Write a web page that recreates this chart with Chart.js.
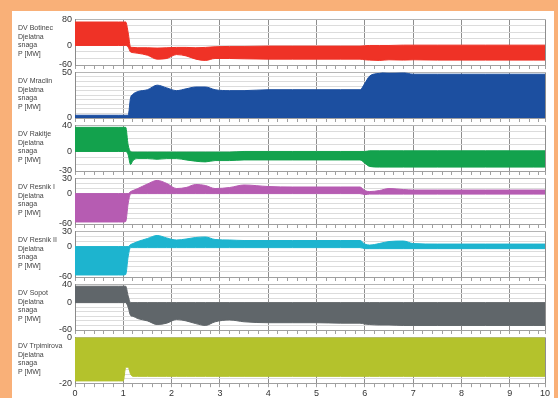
<!DOCTYPE html>
<html>
<head>
<meta charset="utf-8">
<script src="https://cdn.jsdelivr.net/npm/chart.js@4"></script>
<style>
html, body { margin: 0; padding: 0; width: 558px; height: 398px; overflow: hidden; background: #F9B078; font-family: "Liberation Sans", Arial, sans-serif; }
#card { position: absolute; left: 12px; top: 11px; width: 542px; height: 387px; background: #fff; }
.panel { position: absolute; left: 0; }
.lbl { position: absolute; left: 18px; font-size: 7px; line-height: 8.5px; color: #444; white-space: nowrap; }
</style>
</head>
<body>
<div id="card"></div>
<div id="wrap"></div>
<script>
// time axis [s]
const time = [0, 0.9, 1.0, 1.05, 1.1, 1.15, 1.2, 1.3, 1.5, 1.7, 1.9, 2.1, 2.3, 2.5, 2.7, 2.9, 3.2, 3.5, 4.0, 4.5, 5.0, 5.5, 5.9, 6.0, 6.1, 6.3, 6.5, 6.8, 7.0, 7.5, 8.0, 8.5, 9.0, 9.5, 9.73];
const xTickLabels = ['0', '1', '2', '3', '4', '5', '6', '7', '8', '9', '10'];

// envelope of the active power oscillation, P [MW]
const botinecUpper = [72, 72, 72, 72, 40, -5, -6, -7, -7, -8, -7, -6, -6, -7, -6, -4, -3, -3, -2, -2, -2, -2, -2, -1, 0, 0, 0, 1, 1, 1, 1, 1, 1, 1, 1];
const botinecLower = [0, 0, 0, 0, -5, -20, -22, -24, -30, -42, -40, -28, -32, -42, -46, -40, -40, -41, -42, -42, -42, -42, -42, -44, -45, -46, -44, -45, -44, -45, -45, -45, -45, -45, -45];

const mraclinUpper = [3, 3, 3, 3, 3, 22, 26, 29, 31, 36, 33, 30, 32, 34, 34, 31, 30, 30, 31, 31, 31, 31, 31, 38, 46, 49, 51, 50, 48, 48, 48, 48, 48, 48, 48];
const mraclinLower = [0, 0, 0, 0, 0, 0, 0, 0, 0, 0, 0, 0, 0, 0, 0, 0, 0, 0, 0, 0, 0, 0, 0, 0, 0, 0, 0, 0, 0, 0, 0, 0, 0, 0, 0];

const rakitjeUpper = [37, 37, 37, 37, 10, 0, -1, -1, -1, -1, -1, -1, -1, -1, -1, -1, -1, 0, 0, 0, 0, 0, 0, 0, 1, 1, 1, 1, 1, 1, 1, 1, 1, 1, 1];
const rakitjeLower = [0, 0, 0, 0, -5, -20, -14, -11, -11, -12, -11, -11, -13, -15, -16, -14, -14, -13, -13, -13, -13, -13, -13, -18, -23, -24, -24, -24, -24, -24, -24, -24, -24, -24, -24];

const resnik1Upper = [0, 0, 0, 0, 0, 4, 6, 10, 19, 26, 20, 10, 12, 18, 16, 10, 12, 17, 14, 13, 13, 13, 13, 6, 4, 6, 10, 8, 7, 7, 7, 7, 7, 7, 7];
const resnik1Lower = [-56, -56, -56, -55, -20, -1, 0, 0, 0, 0, 0, 0, 0, 0, 0, 0, 0, 0, 0, 0, 0, 0, 0, -2, -1, -1, -1, -1, -1, -1, -1, -1, -1, -1, -1];

const resnik2Upper = [0, 0, 0, 0, 0, 4, 6, 10, 16, 22, 17, 13, 15, 18, 19, 14, 13, 12, 12, 12, 12, 12, 12, 5, 3, 6, 10, 11, 6, 5, 5, 5, 5, 5, 5];
const resnik2Lower = [-56, -56, -56, -55, -20, -2, -2, -2, -2, -2, -2, -2, -2, -2, -2, -2, -2, -2, -2, -2, -2, -2, -2, -4, -4, -4, -4, -4, -4, -4, -4, -4, -4, -4, -4];

const sopotUpper = [36, 36, 36, 36, 15, 0, 0, 0, 0, 0, 0, 0, 0, 0, 0, 0, 0, 0, 0, 0, 0, 0, 0, 0, 0, 0, 0, 0, 0, 0, 0, 0, 0, 0, 0];
const sopotLower = [0, 0, 0, 0, -10, -28, -30, -35, -40, -48, -45, -37, -40, -46, -50, -42, -38, -42, -44, -44, -44, -45, -45, -47, -48, -49, -49, -50, -50, -50, -50, -50, -50, -50, -50];

const trpimirovaUpper = [0, 0, 0, 0, 0, 0, 0, 0, 0, 0, 0, 0, 0, 0, 0, 0, 0, 0, 0, 0, 0, 0, 0, 0, 0, 0, 0, 0, 0, 0, 0, 0, 0, 0, 0];
const trpimirovaLower = [-19, -19, -19, -13, -13, -16, -17, -17, -17, -17, -17, -17, -17, -17, -17, -17, -17, -17, -17, -17, -17, -17, -17, -17, -17, -17, -17, -17, -17, -17, -17, -17, -17, -17, -17];

const panelNames = ['DV Botinec', 'DV Mraclin', 'DV Rakitje', 'DV Resnik I', 'DV Resnik II', 'DV Sopot', 'DV Trpimirova'];
const panelMin = [-60, 0, -30, -60, -60, -60, -20];
const panelMax = [80, 50, 40, 30, 30, 40, 0];
const panelStep = [20, 5, 10, 10, 10, 10, 2];
const upperSeries = [botinecUpper, mraclinUpper, rakitjeUpper, resnik1Upper, resnik2Upper, sopotUpper, trpimirovaUpper];
const lowerSeries = [botinecLower, mraclinLower, rakitjeLower, resnik1Lower, resnik2Lower, sopotLower, trpimirovaLower];

const colors = ['#EF3226', '#1C4FA0', '#13A24D', '#B65CB2', '#1DB4CF', '#60666A', '#B4C22C'];

const X_MAX = 9.73;
const TOP0 = 17, PANEL_H = 48, GAP = 5, PAD = 6;

const wrap = document.getElementById('wrap');

panelNames.forEach((name, p) => {
    const last = p === panelNames.length - 1;
    const top = TOP0 + p * (PANEL_H + GAP);
    const h = PAD + PANEL_H + (last ? 17 : 10);

    const div = document.createElement('div');
    div.className = 'panel';
    div.style.top = (top - PAD) + 'px';
    const canvas = document.createElement('canvas');
    canvas.width = 553;
    canvas.height = h;
    div.appendChild(canvas);
    wrap.appendChild(div);

    const lbl = document.createElement('div');
    lbl.className = 'lbl';
    lbl.style.top = (top + 7) + 'px';
    lbl.innerHTML = name + '<br>Djelatna<br>snaga<br>P [MW]';
    document.body.appendChild(lbl);

    const pts = arr => arr.map((v, i) => ({ x: time[i], y: v }));
    const min = panelMin[p], max = panelMax[p], step = panelStep[p];

    new Chart(canvas, {
        type: 'line',
        data: {
            datasets: [
                { data: pts(upperSeries[p]), borderColor: colors[p], borderWidth: 1, pointRadius: 0, fill: false, cubicInterpolationMode: 'monotone' },
                { data: pts(lowerSeries[p]), borderColor: colors[p], backgroundColor: colors[p], borderWidth: 1, pointRadius: 0, fill: '-1', cubicInterpolationMode: 'monotone' }
            ]
        },
        options: {
            responsive: false,
            animation: false,
            events: [],
            layout: { padding: { left: 0, right: 8, top: PAD, bottom: last ? 0 : PAD } },
            plugins: { legend: { display: false }, tooltip: { enabled: false } },
            scales: {
                x: {
                    type: 'linear',
                    min: 0,
                    max: X_MAX,
                    afterBuildTicks: scale => {
                        const ticks = [];
                        for (let i = 0; i * 0.2 < X_MAX - 0.05; i++) ticks.push({ value: Math.round(i * 2) / 10 });
                        ticks.push({ value: X_MAX });
                        scale.ticks = ticks;
                    },
                    ticks: {
                        display: last,
                        autoSkip: false,
                        maxRotation: 0,
                        padding: 1,
                        color: '#333',
                        font: { size: 9 },
                        callback: v => {
                            if (v === X_MAX) return xTickLabels[10];
                            return Number.isInteger(v) ? xTickLabels[v] : '';
                        }
                    },
                    grid: {
                        color: c => (Number.isInteger(c.tick.value) || c.tick.value === X_MAX) ? '#8e8e8e' : 'rgba(0,0,0,0)',
                        tickColor: '#a0a0a0',
                        tickLength: 4
                    },
                    border: { color: '#a0a0a0' }
                },
                y: {
                    min: min,
                    max: max,
                    afterFit: scale => { scale.width = 75; },
                    afterBuildTicks: scale => {
                        const ticks = [];
                        for (let v = min; v <= max + 1e-9; v += step) ticks.push({ value: v });
                        scale.ticks = ticks;
                    },
                    ticks: {
                        autoSkip: false,
                        padding: 3,
                        color: '#333',
                        font: { size: 9 },
                        callback: v => (v === min || v === 0 || v === max) ? String(v) : ''
                    },
                    grid: {
                        drawTicks: false,
                        color: c => (c.tick.value === min || c.tick.value === max) ? '#b5b5b5' : '#dcdcdc'
                    },
                    border: { color: '#8a8a8a' }
                }
            }
        }
    });
});
</script>
</body>
</html>
